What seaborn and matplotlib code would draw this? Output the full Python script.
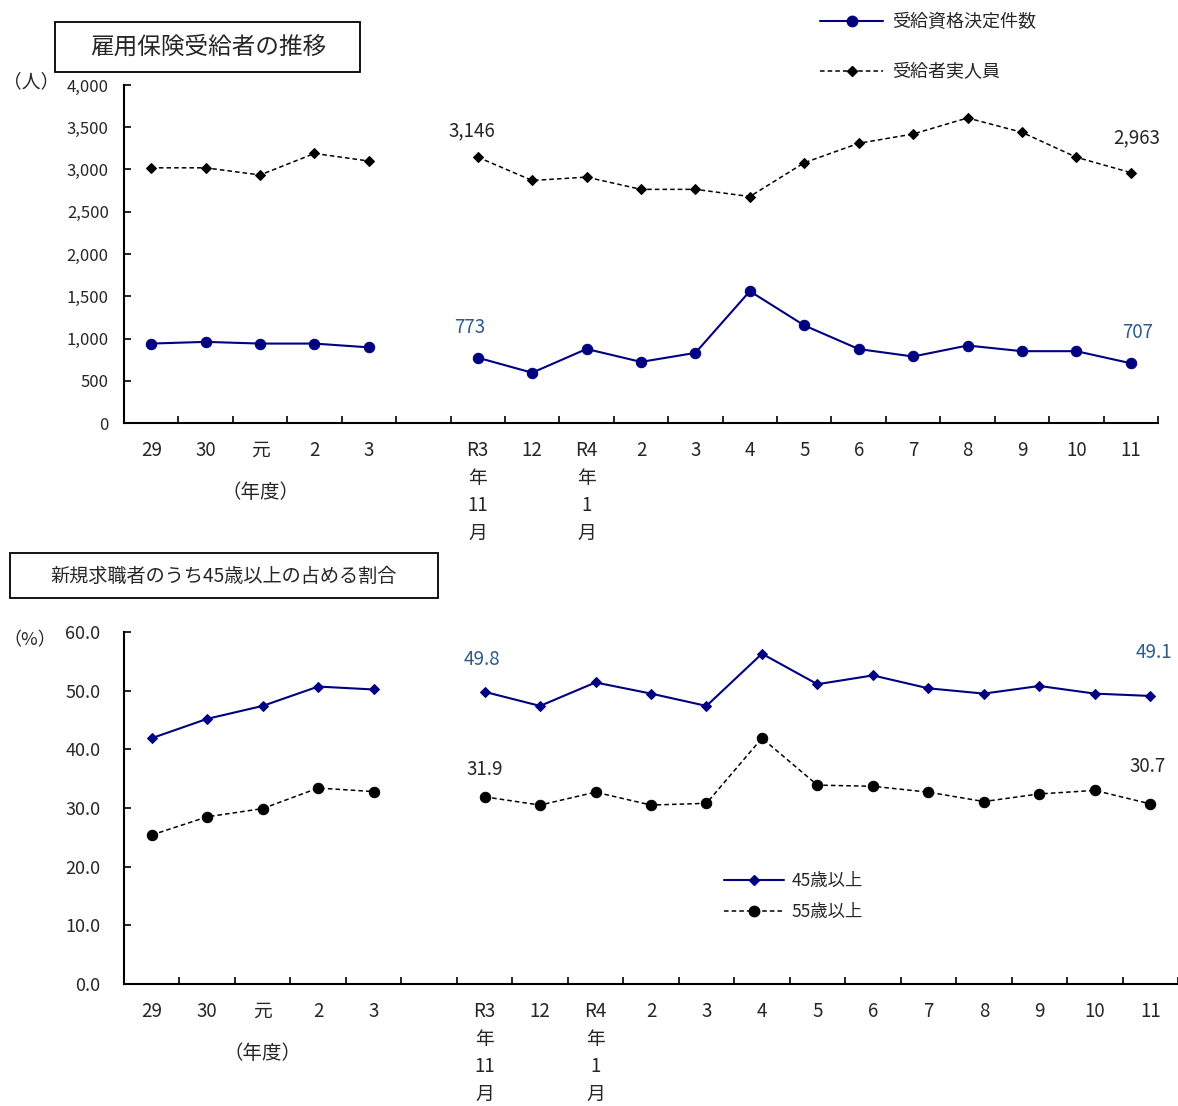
import numpy as np
import pandas as pd
import matplotlib
matplotlib.use('Agg')
import matplotlib.pyplot as plt
import seaborn as sns
from matplotlib.lines import Line2D
from matplotlib.patches import Rectangle
from matplotlib.ticker import FuncFormatter, FixedLocator

# ── Data ──────────────────────────────────────────────────────
tick_labels = ['29', '30', '元', '2', '3', '',
               'R3\n年\n11\n月', '12', 'R4\n年\n1\n月', '2', '3', '4', '5',
               '6', '7', '8', '9', '10', '11']
year_pos  = [0, 1, 2, 3, 4]
month_pos = [6, 7, 8, 9, 10, 11, 12, 13, 14, 15, 16, 17, 18]

# 雇用保険受給者の推移 (人)
kettei_year  = [940, 960, 940, 940, 895]
kettei_month = [773, 595, 876, 723, 830, 1560, 1155, 875, 787, 917, 850, 850, 707]
jitsu_year   = [3020, 3020, 2935, 3190, 3100]
jitsu_month  = [3146, 2870, 2910, 2765, 2765, 2680, 3080, 3310, 3420, 3610, 3440, 3145, 2963]

# 新規求職者のうち45歳以上の占める割合 (%)
age45_year  = [41.9, 45.2, 47.4, 50.7, 50.2]
age45_month = [49.8, 47.4, 51.4, 49.5, 47.4, 56.3, 51.1, 52.6, 50.4, 49.5, 50.8, 49.5, 49.1]
age55_year  = [25.4, 28.5, 29.9, 33.4, 32.8]
age55_month = [31.9, 30.5, 32.7, 30.5, 30.8, 41.9, 33.9, 33.7, 32.7, 31.1, 32.4, 33.0, 30.7]

NAVY  = '#000080'
LBLUE = '#2F5A8C'
DASH  = (0, (3, 2))

sns.set_style('white')
plt.rcParams['font.family'] = ['Noto Sans CJK JP', 'DejaVu Sans']

W, H = 1178, 1106
fig = plt.figure(figsize=(W / 100, H / 100), dpi=100)
ax1 = fig.add_axes([124 / W, 1 - 423 / H, 1034 / W, 338 / H])
ax2 = fig.add_axes([124 / W, 1 - 984 / H, 1054 / W, 352 / H])


def draw_series(ax, yv, mv, color, ls, marker, ms, lw):
    for pos, vals in ((year_pos, yv), (month_pos, mv)):
        df = pd.DataFrame({'pos': pos, 'val': vals})
        sns.lineplot(data=df, x='pos', y='val', ax=ax, color=color, linestyle=ls,
                     linewidth=lw, marker=marker, markersize=ms,
                     markeredgecolor=color, markerfacecolor=color)


def style_axis(ax):
    ax.set_xlim(-0.5, 18.5)
    ax.xaxis.set_major_locator(FixedLocator(range(len(tick_labels))))
    ax.set_xticklabels(tick_labels, fontsize=13.5)
    for lbl in ax.get_xticklabels():
        lbl.set_linespacing(1.43)
    ax.xaxis.set_minor_locator(FixedLocator(np.arange(-0.5, 19, 1.0)))
    ax.tick_params(axis='x', which='major', bottom=True, length=0, pad=12)
    ax.tick_params(axis='x', which='minor', bottom=True, direction='in', length=5,
                   width=1.2, color='black')
    ax.tick_params(axis='y', left=True, direction='in', length=5, width=1.2,
                   color='black', labelsize=12)
    for s in ('top', 'right'):
        ax.spines[s].set_visible(False)
    for s in ('left', 'bottom'):
        ax.spines[s].set_color('black')
        ax.spines[s].set_linewidth(1.5)
    ax.set_xlabel(''); ax.set_ylabel('')
    ax.grid(False)
    ax.annotate('（年度）', xy=(2, 0), xycoords=('data', 'axes fraction'),
                xytext=(0, -50), textcoords='offset points',
                ha='center', va='center', fontsize=14)


# ── Top panel ────────────────────────────────────────────────
draw_series(ax1, kettei_year, kettei_month, NAVY, '-', 'o', 7.5, 1.5)
draw_series(ax1, jitsu_year, jitsu_month, 'black', DASH, 'D', 5.5, 1.1)
style_axis(ax1)
ax1.set_ylim(0, 4000)
ax1.set_yticks(np.arange(0, 4001, 500))
ax1.yaxis.set_major_formatter(FuncFormatter(lambda v, p: f'{int(v):,}'))
ax1.tick_params(axis='y', pad=11)

ax1.annotate(f'{jitsu_month[0]:,}', xy=(month_pos[0], jitsu_month[0]), xytext=(-4, 19),
             textcoords='offset points', ha='center', va='center', fontsize=13.5)
ax1.annotate(f'{jitsu_month[-1]:,}', xy=(month_pos[-1], jitsu_month[-1]), xytext=(4, 25),
             textcoords='offset points', ha='center', va='center', fontsize=13.5)
ax1.annotate(f'{kettei_month[0]:,}', xy=(month_pos[0], kettei_month[0]), xytext=(-6, 22),
             textcoords='offset points', ha='center', va='center', fontsize=13.5, color=LBLUE)
ax1.annotate(f'{kettei_month[-1]:,}', xy=(month_pos[-1], kettei_month[-1]), xytext=(5, 22),
             textcoords='offset points', ha='center', va='center', fontsize=13.5, color=LBLUE)

h_top = [Line2D([], [], color=NAVY, lw=1.5, marker='o', ms=7.5),
         Line2D([], [], color='black', lw=1.1, ls=DASH, marker='D', ms=5.5)]
fig.legend(h_top, ['受給資格決定件数', '受給者実人員'], loc='upper left',
           bbox_to_anchor=(804 / W, 1 + 3 / H), frameon=False, fontsize=13,
           handlelength=3.5, handletextpad=0.45, labelspacing=1.75)

# ── Bottom panel ─────────────────────────────────────────────
draw_series(ax2, age45_year, age45_month, NAVY, '-', 'D', 5.5, 1.5)
draw_series(ax2, age55_year, age55_month, 'black', DASH, 'o', 7.5, 1.1)
style_axis(ax2)
ax2.set_ylim(0, 60)
ax2.set_yticks(np.arange(0, 61, 10))
ax2.yaxis.set_major_formatter(FuncFormatter(lambda v, p: f'{v:.1f}'))
ax2.tick_params(axis='y', pad=17, labelsize=13)

ax2.annotate(f'{age45_month[0]:.1f}', xy=(month_pos[0], age45_month[0]), xytext=(-2, 23),
             textcoords='offset points', ha='center', va='center', fontsize=13.5, color=LBLUE)
ax2.annotate(f'{age45_month[-1]:.1f}', xy=(month_pos[-1], age45_month[-1]), xytext=(3, 31),
             textcoords='offset points', ha='center', va='center', fontsize=13.5, color=LBLUE)
ax2.annotate(f'{age55_month[0]:.1f}', xy=(month_pos[0], age55_month[0]), xytext=(0, 20),
             textcoords='offset points', ha='center', va='center', fontsize=13.5)
ax2.annotate(f'{age55_month[-1]:.1f}', xy=(month_pos[-1], age55_month[-1]), xytext=(-2, 27),
             textcoords='offset points', ha='center', va='center', fontsize=13.5)

h_bot = [Line2D([], [], color=NAVY, lw=1.5, marker='D', ms=5.5),
         Line2D([], [], color='black', lw=1.1, ls=DASH, marker='o', ms=7.5)]
ax2.legend(h_bot, ['45歳以上', '55歳以上'], loc='upper left',
           bbox_to_anchor=(708 / W, 1 - 856 / H), bbox_transform=fig.transFigure,
           frameon=False, fontsize=12.5, handlelength=3.5, handletextpad=0.4, labelspacing=0.75)

# ── Title boxes & unit labels ────────────────────────────────
fig.patches.append(Rectangle((55 / W, 1 - 72 / H), 305 / W, 50 / H, transform=fig.transFigure,
                             fill=False, ec='black', lw=1.3))
fig.text(208 / W, 1 - 47 / H, '雇用保険受給者の推移', ha='center', va='center', fontsize=17)
fig.patches.append(Rectangle((10 / W, 1 - 598 / H), 428 / W, 45 / H, transform=fig.transFigure,
                             fill=False, ec='black', lw=1.3))
fig.text(224 / W, 1 - 576 / H, '新規求職者のうち45歳以上の占める割合', ha='center', va='center',
         fontsize=13.8)
fig.text(31 / W, 1 - 82 / H, '（人）', ha='center', va='center', fontsize=13.5)
fig.text(30 / W, 1 - 640 / H, '（%）', ha='center', va='center', fontsize=13)

fig.savefig('out.png', dpi=100)
plt.close(fig)
